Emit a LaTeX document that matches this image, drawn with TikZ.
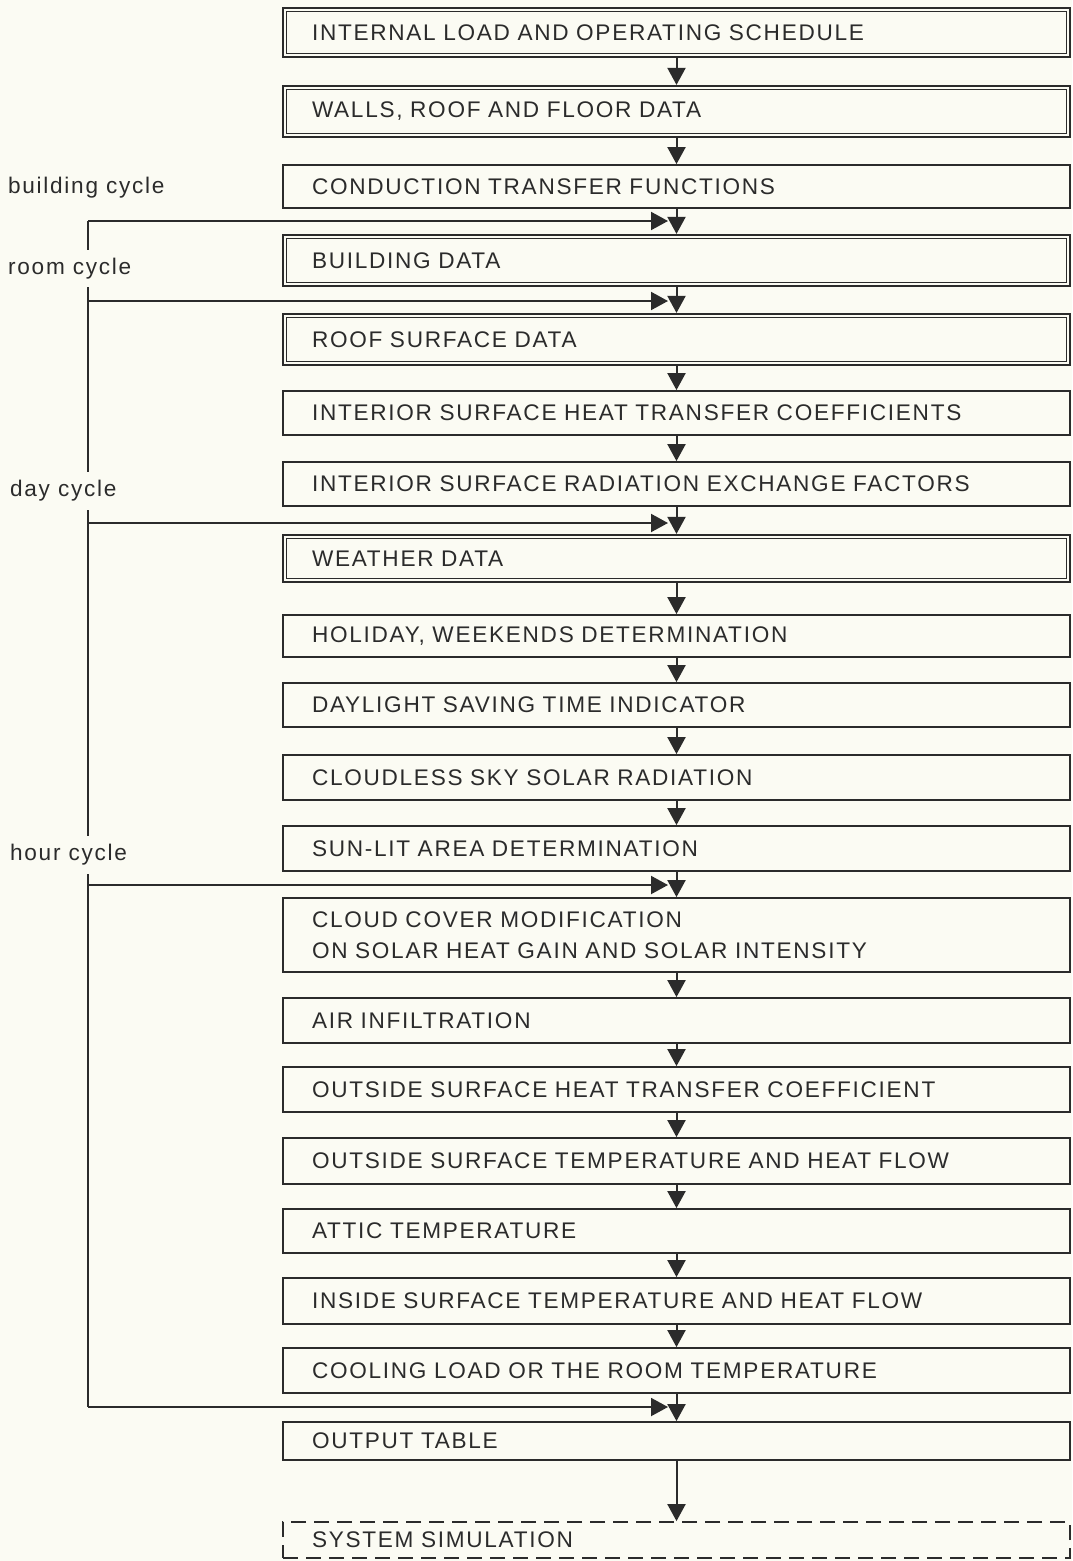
\documentclass[tikz,border=0pt]{standalone}
\usepackage{fontspec}
\setmainfont[LetterSpace=7.6]{Liberation Sans}
\usetikzlibrary{arrows.meta}
\definecolor{bg}{HTML}{FBFBF3}
\definecolor{ink}{HTML}{2B2B2B}
\newcommand\boxfont{\fontsize{22.6}{31}\selectfont}
\begin{document}
\begin{tikzpicture}[x=1pt,y=-1pt,
  box/.style={draw=ink, line width=1.8pt, fill=bg, minimum width=787pt, inner xsep=29pt, inner ysep=0pt, text width=729pt, align=left, font=\boxfont, text=ink, anchor=center},
  dbl/.style={box, line width=2.2pt},
  dsh/.style={box, dash pattern=on 15pt off 8pt},
  arr/.style={draw=ink, line width=2pt, -{Triangle[length=17pt,width=18pt]}},
  loopline/.style={draw=ink, line width=2pt},
  lbl/.style={fill=bg, inner xsep=2pt, inner ysep=8pt, anchor=west, font=\boxfont, text=ink}]
\useasboundingbox[fill=bg] (0,0) rectangle (1072,1561);

\node[dbl, minimum height=49pt] (b1) at (676.5,32.5) {INTERNAL LOAD AND OPERATING SCHEDULE};
\node[dbl, minimum height=51pt] (b2) at (676.5,111.5) {WALLS, ROOF AND FLOOR DATA};
\node[box, minimum height=43pt] (b3) at (676.5,186.5) {CONDUCTION TRANSFER FUNCTIONS};
\node[dbl, minimum height=51pt] (b4) at (676.5,260.5) {BUILDING DATA};
\node[dbl, minimum height=51pt] (b5) at (676.5,339.5) {ROOF SURFACE DATA};
\node[box, minimum height=44pt] (b6) at (676.5,413) {INTERIOR SURFACE HEAT TRANSFER COEFFICIENTS};
\node[box, minimum height=44pt] (b7) at (676.5,484) {INTERIOR SURFACE RADIATION EXCHANGE FACTORS};
\node[dbl, minimum height=47pt] (b8) at (676.5,558.5) {WEATHER DATA};
\node[box, minimum height=42pt] (b9) at (676.5,636) {HOLIDAY, WEEKENDS DETERMINATION};
\node[box, minimum height=44pt] (b10) at (676.5,705) {DAYLIGHT SAVING TIME INDICATOR};
\node[box, minimum height=45pt] (b11) at (676.5,777.5) {CLOUDLESS SKY SOLAR RADIATION};
\node[box, minimum height=45pt] (b12) at (676.5,848.5) {SUN-LIT AREA DETERMINATION};
\node[box, minimum height=74pt] (b13) at (676.5,935) {CLOUD COVER MODIFICATION\\ON SOLAR HEAT GAIN AND SOLAR INTENSITY};
\node[box, minimum height=45pt] (b14) at (676.5,1020.5) {AIR INFILTRATION};
\node[box, minimum height=45pt] (b15) at (676.5,1089.5) {OUTSIDE SURFACE HEAT TRANSFER COEFFICIENT};
\node[box, minimum height=46pt] (b16) at (676.5,1161) {OUTSIDE SURFACE TEMPERATURE AND HEAT FLOW};
\node[box, minimum height=44pt] (b17) at (676.5,1231) {ATTIC TEMPERATURE};
\node[box, minimum height=46pt] (b18) at (676.5,1301) {INSIDE SURFACE TEMPERATURE AND HEAT FLOW};
\node[box, minimum height=45pt] (b19) at (676.5,1370.5) {COOLING LOAD OR THE ROOM TEMPERATURE};
\node[box, minimum height=38pt] (b20) at (676.5,1441) {OUTPUT TABLE};
\node[dsh, minimum height=36pt] (b21) at (676.5,1540) {SYSTEM SIMULATION};

% inner lines of the double-framed boxes
\foreach \b in {b1,b2,b4,b5,b8}{
  \draw[ink, line width=1pt] ([xshift=4.5pt,yshift=-4.5pt]\b.north west) rectangle ([xshift=-4.5pt,yshift=4.5pt]\b.south east);
}

% main flow
\foreach \a/\b in {b1/b2,b2/b3,b3/b4,b4/b5,b5/b6,b6/b7,b7/b8,b8/b9,b9/b10,b10/b11,b11/b12,b12/b13,b13/b14,b14/b15,b15/b16,b16/b17,b17/b18,b18/b19,b19/b20,b20/b21}{
  \draw[arr] (\a.south) -- (\b.north);
}

% cycle loops
\coordinate (c1) at (88,221);   \coordinate (t1) at (668,221);
\coordinate (c2) at (88,301);   \coordinate (t2) at (668,301);
\coordinate (c3) at (88,523);   \coordinate (t3) at (668,523);
\coordinate (c4) at (88,885);   \coordinate (t4) at (668,885);
\coordinate (c5) at (88,1407);  \coordinate (t5) at (668,1407);
\draw[loopline] (c1) -- (c5);
\foreach \i in {1,...,5}{ \draw[arr] (c\i) -- (t\i); }

\node[lbl] (l1) at (6,188) {building cycle};
\node[lbl] (l2) at (6,268.5) {room cycle};
\node[lbl] (l3) at (8,491) {day cycle};
\node[lbl] (l4) at (8,855) {hour cycle};
\end{tikzpicture}
\end{document}
